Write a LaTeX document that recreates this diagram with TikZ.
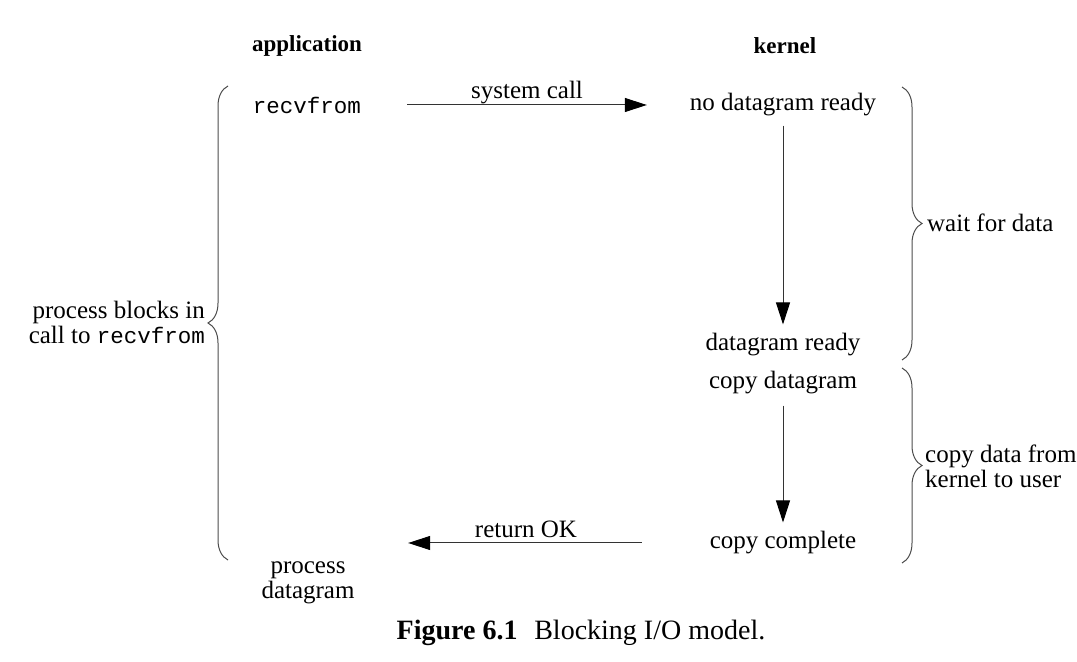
\documentclass[tikz,border=0pt]{standalone}
\usepackage{fontspec}
\setmainfont{Liberation Serif}
\setmonofont[Scale=0.9]{Liberation Mono}
\usetikzlibrary{arrows.meta,decorations.pathreplacing}

\begin{document}
\begin{tikzpicture}[x=0.5pt, y=-0.5pt, line width=0.5pt,
  every node/.style={font=\fontsize{12.5}{12.5}\selectfont},
  head/.style={font=\fontsize{11.5}{12.5}\selectfont\bfseries},
  arr/.style={draw=black!80, -{Triangle[length=11pt,width=7pt,color=black]}},
  brc/.style={draw=black!70, decorate, decoration={brace, amplitude=10pt}}]
  \useasboundingbox (0,0) rectangle (1077,662);

  % column heads
  \node[head] (app) at (307,46) {application};
  \node[head] (ker) at (785,46) {kernel};

  % application side
  \node (recv) at (307,105) {\texttt{recvfrom}};
  \node (proc) at (308,583) [align=center] {process\\datagram};
  \node (blk) at (212,322) [anchor=east, align=right] {process blocks in\\call to \texttt{recvfrom}};

  % kernel side
  \node (nodg) at (783,105) {no datagram ready};
  \node (dgr)  at (783,345) {datagram ready};
  \node (cpdg) at (783,383) {copy datagram};
  \node (cpcm) at (783,543) {copy complete};

  % system call / return
  \draw[arr, shorten <=19.5pt, shorten >=18pt] (recv.east) -- (nodg.west);
  \node (sc) at (527,93) {system call};
  \draw[arr, shorten <=30.5pt, shorten >=20pt] (cpcm.west) -- (cpcm.west -| recv.east);
  \node (rok) at (526,529) {return OK};

  % kernel steps
  \draw[arr, shorten <=1pt, shorten >=1pt] (nodg.south) -- (dgr.north);
  \draw[arr, shorten <=2pt, shorten >=1pt] (cpdg.south) -- (cpcm.north);

  % braces
  \draw[brc] (228,560) -- (228,86);
  \draw[brc] (902,87) -- (902,360);
  \draw[brc] (902,368) -- (902,563);
  \node (wait) at (920,223) [anchor=west] {wait for data};
  \node (copy) at (918,466) [anchor=west, align=left] {copy data from\\kernel to user};

  % caption
  \node (cap) at (581,633) [font=\fontsize{14}{14}\selectfont] {\textbf{Figure 6.1}\hspace{0.6em}Blocking I/O model.};
\end{tikzpicture}
\end{document}
